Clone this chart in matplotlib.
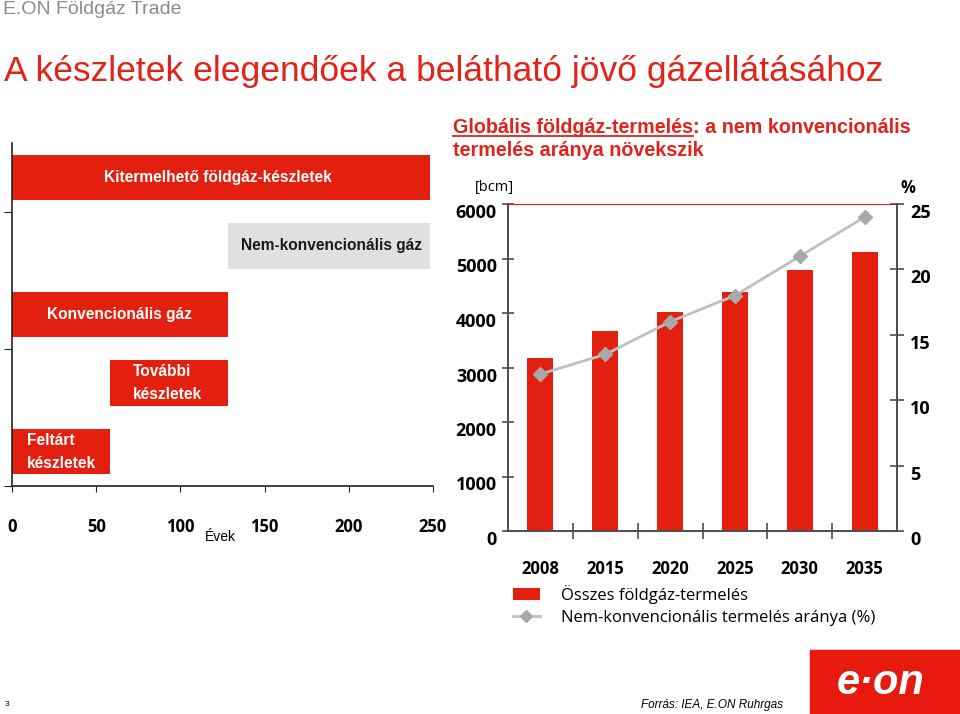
import numpy as np
import matplotlib.pyplot as plt
from matplotlib.patches import Patch, Rectangle
from matplotlib.lines import Line2D

RED = '#e3200f'
GREY_BAR = '#e0e0e0'
LINE_GREY = '#c0c0c0'
MARK_GREY = '#a8a8a8'
AXC = '#4d4d4d'

# reserves (years of supply)
reserve_labels = ['Kitermelhető földgáz-készletek', 'Nem-konvencionális gáz',
                  'Konvencionális gáz', 'További\nkészletek', 'Feltárt\nkészletek']
reserve_start = [0, 128, 0, 58, 0]
reserve_end = [248, 248, 128, 128, 58]
reserve_pos = [4, 3, 2, 1, 0]
reserve_colors = [RED, GREY_BAR, RED, RED, RED]
reserve_ticks = [0, 50, 100, 150, 200, 250]

# global production
years = ['2008', '2015', '2020', '2025', '2030', '2035']
production = [3170, 3675, 4025, 4390, 4780, 5125]   # bcm
share = [12.0, 13.5, 16.0, 18.0, 21.0, 24.0]        # %
prod_ticks = [0, 1000, 2000, 3000, 4000, 5000, 6000]
share_ticks = [0, 5, 10, 15, 20, 25]

ARIAL = 'Liberation Sans'
CAL = 'Open Sans'

fig = plt.figure(figsize=(9.6, 7.14), dpi=100)

# header
fig.text(3/960, 1-10/714, 'E.ON Földgáz Trade', color='#8c8c8c', fontsize=14,
         family=ARIAL, va='center', ha='left')
fig.text(4/960, 1-72/714, 'A készletek elegendőek a belátható jövő gázellátásához',
         color='#e2231a', fontsize=25.5, family=ARIAL, va='center', ha='left')

# ---- left chart
ax1 = fig.add_axes([12/960, 228/714, 421/960, 343/714])
widths = [e - s for s, e in zip(reserve_start, reserve_end)]
ax1.barh(reserve_pos, widths, left=reserve_start, height=0.66, color=reserve_colors)
ax1.set_xlim(0, 250)
ax1.set_ylim(-0.5, 4.5)
ax1.set_yticks([-0.5, 1.5, 3.5])
ax1.set_yticklabels([])
ax1.set_xticks(reserve_ticks)
ax1.set_xticklabels([str(v) for v in reserve_ticks], fontsize=12, fontweight='bold',
                    family=CAL)
ax1.tick_params(axis='x', direction='out', length=4, pad=19, color='#222')
ax1.tick_params(axis='y', direction='out', length=6, color='#222')
for s in ['top', 'right']:
    ax1.spines[s].set_visible(False)
for s in ['left', 'bottom']:
    ax1.spines[s].set_color('#222')
    ax1.spines[s].set_linewidth(1.2)

lbl_kw = dict(family=ARIAL, fontweight='bold', fontsize=11.2, va='center')
ax1.text(122, 4, reserve_labels[0], color='white', ha='center', **lbl_kw)
ax1.text(190, 3, reserve_labels[1], color='#1a1a1a', ha='center', **lbl_kw)
ax1.text(64, 2, reserve_labels[2], color='white', ha='center', **lbl_kw)
ax1.text(72, 1, reserve_labels[3], color='white', ha='left', linespacing=1.7, **lbl_kw)
ax1.text(9, 0, reserve_labels[4], color='white', ha='left', linespacing=1.7, **lbl_kw)
fig.text(220/960, 1-537/714, 'Évek', fontsize=10, family=ARIAL, ha='center', va='center')

# ---- right chart
ax2 = fig.add_axes([508/960, 183/714, 389/960, 327/714])
x = np.arange(len(years))
ax2.bar(x, production, width=0.4, color=RED, zorder=2)
ax2.set_xlim(-0.5, len(years) - 0.5)
ax2.set_ylim(0, 6000)
ax2.set_yticks(prod_ticks)
ax2.set_yticklabels([str(v) for v in prod_ticks], fontsize=13, fontweight='bold', family=CAL)
for lbl in ax2.get_yticklabels():
    lbl.set_va('top')
ax2.set_xticks(x)
ax2.set_xticklabels(years, fontsize=12, fontweight='bold', family=CAL)
ax2.set_xticks(x[:-1] + 0.5, minor=True)
ax2.tick_params(axis='x', which='major', length=0, pad=21)
ax2.tick_params(axis='x', which='minor', direction='inout', length=11, color=AXC, width=1.2)
ax2.tick_params(axis='y', direction='inout', length=8, color=AXC, width=1.2, pad=4)
ax2.spines['right'].set_visible(False)
ax2.spines['top'].set_color(RED)
ax2.spines['top'].set_linewidth(0.8)
for s in ['left', 'bottom']:
    ax2.spines[s].set_color(AXC)
    ax2.spines[s].set_linewidth(1.4)

ax3 = ax2.twinx()
ax3.plot(x, share, color=LINE_GREY, lw=2, marker='D', ms=7, mfc=MARK_GREY, mec=MARK_GREY,
         zorder=3)
ax3.set_ylim(0, 25)
ax3.set_yticks(share_ticks)
ax3.set_yticklabels([str(v) for v in share_ticks], fontsize=13, fontweight='bold', family=CAL)
for lbl in ax3.get_yticklabels():
    lbl.set_va('top')
ax3.tick_params(axis='y', direction='inout', length=10, color=AXC, width=1.2, pad=4.5)
for s in ['left', 'top', 'bottom']:
    ax3.spines[s].set_visible(False)
ax3.spines['right'].set_color(AXC)
ax3.spines['right'].set_linewidth(1.4)

fig.text(494/960, 1-187/714, '[bcm]', fontsize=10.5, family=CAL, ha='center', va='center')
fig.text(908/960, 1-188/714, '%', fontsize=12, fontweight='bold', family=CAL,
         ha='center', va='center')

# chart title with underline on first part
tkw = dict(color='#e2231a', fontsize=14.2, fontweight='bold', family=ARIAL, ha='left',
           va='baseline')
tx, ty = 453/960, 1-133/714
fig.text(tx, ty, 'Globális földgáz-termelés: a nem konvencionális', **tkw)
fig.text(tx, 1-156/714, 'termelés aránya növekszik', **tkw)
r = fig.canvas.get_renderer()
tmp = fig.text(tx, ty, 'Globális földgáz-termelés', **tkw)
bb = tmp.get_window_extent(renderer=r)
tmp.remove()
uy = ty - 3/714
fig.add_artist(Line2D([tx, tx + bb.width/960], [uy, uy], color='#e2231a', lw=1.3,
                      transform=fig.transFigure))

# legend
handles = [Patch(facecolor=RED),
           Line2D([], [], color=LINE_GREY, lw=2, marker='D', ms=6, mfc=MARK_GREY, mec=MARK_GREY)]
fig.legend(handles, ['Összes földgáz-termelés', 'Nem-konvencionális termelés aránya (%)'],
           loc='upper left', bbox_to_anchor=(513/960, 1-585/714), frameon=False,
           prop={'family': CAL, 'size': 12}, handlelength=1.6, handletextpad=1.3,
           labelspacing=0.35, borderpad=0, borderaxespad=0)

# footer
fig.text(5/960, 1-704/714, '3', fontsize=6, family=ARIAL, ha='left', va='center')
fig.text(641/960, 1-705/714, 'Forrás: IEA, E.ON Ruhrgas', fontsize=8.5, style='italic',
         family=ARIAL, ha='left', va='center')
fig.add_artist(Rectangle((810/960, 0), 150/960, 64/714, transform=fig.transFigure,
                         color='#e8190e'))
fig.text(881/960, 1-683/714, 'e·on', color='white', fontsize=30, fontweight='bold',
         style='italic', family=ARIAL, ha='center', va='center')

fig.savefig('out.png', dpi=100)
